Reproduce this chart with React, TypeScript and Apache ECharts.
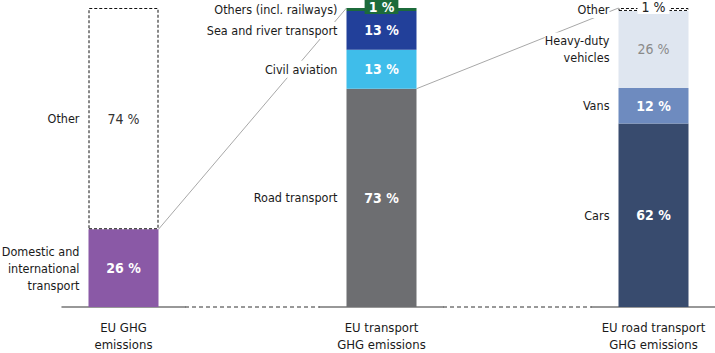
import React, { useEffect, useRef } from "react";
import * as echarts from "echarts";

// ---- data ----
const barCategories = ["EU GHG\nemissions", "EU transport\nGHG emissions", "EU road transport\nGHG emissions"];

const ghgNames = ["Domestic and\ninternational\ntransport", "Other"];
const ghgValues = [26, 74];

const transportNames = ["Road transport", "Civil aviation", "Sea and river transport", "Others (incl. railways)"];
const transportValues = [73, 13, 13, 1];

const roadNames = ["Cars", "Vans", "Heavy-duty\nvehicles", "Other"];
const roadValues = [62, 12, 26, 1];

// ---- styles (kept apart from data) ----
const FONT = '"Liberation Sans Narrow", "DejaVu Sans Condensed", "Noto Sans", sans-serif';
const FS = 12.5;
type SegStyle = {
  color: string;
  dashed?: boolean;
  labelColor: string;
  bold?: boolean;
  topLabel?: boolean;
  labelBg?: string;
};
const ghgStyles: SegStyle[] = [
  { color: "#8a59a6", labelColor: "#ffffff", bold: true },
  { color: "#ffffff", dashed: true, labelColor: "#333333" },
];
const transportStyles: SegStyle[] = [
  { color: "#6d6e71", labelColor: "#ffffff", bold: true },
  { color: "#3fbdea", labelColor: "#ffffff", bold: true },
  { color: "#22409a", labelColor: "#ffffff", bold: true },
  { color: "#1c6b3b", labelColor: "#ffffff", bold: true, topLabel: true, labelBg: "#1c6b3b" },
];
const roadStyles: SegStyle[] = [
  { color: "#384b6e", labelColor: "#ffffff", bold: true },
  { color: "#6e8bbf", labelColor: "#ffffff", bold: true },
  { color: "#dfe6f0", labelColor: "#8a8a8a" },
  { color: "#ffffff", dashed: true, labelColor: "#222222", topLabel: true, labelBg: "#ffffff" },
];

const GRID_W = 123;
const BAR_W = 70;
const gridLefts = [62, 320, 592];
const GRID_TOP = 8;
const GRID_BOTTOM = 42;

export default function App() {
  const ref = useRef<HTMLDivElement>(null);
  useEffect(() => {
    if (!ref.current) return;
    const chart = echarts.init(ref.current, undefined, { renderer: "svg" });

    const groups = [
      { names: ghgNames, values: ghgValues, styles: ghgStyles, max: 100 },
      { names: transportNames, values: transportValues, styles: transportStyles, max: 100 },
      { names: roadNames, values: roadValues, styles: roadStyles, max: roadValues.reduce((a, b) => a + b, 0) },
    ];

    const series: any[] = [];
    groups.forEach((g, gi) => {
      g.values.forEach((v, i) => {
        const st = g.styles[i];
        series.push({
          type: "bar",
          xAxisIndex: gi,
          yAxisIndex: gi,
          stack: "v" + gi,
          barWidth: BAR_W,
          silent: true,
          z: 3,
          data: [v],
          itemStyle: {
            color: st.color,
            borderColor: st.dashed ? "#111111" : undefined,
            borderWidth: st.dashed ? 1 : 0,
            borderType: st.dashed ? [3, 2] : "solid",
          },
          label: {
            show: true,
            position: st.topLabel ? "top" : "inside",
            distance: st.topLabel ? -6 : 5,
            formatter: v + " %",
            color: st.labelColor,
            fontFamily: FONT,
            fontSize: 14,
            fontWeight: st.bold ? 600 : "normal",
            backgroundColor: st.labelBg,
            padding: st.labelBg ? [1, 4, 0, 4] : 0,
          },
        });
      });
      g.values.forEach((v, i) => {
        series.push({
          type: "bar",
          xAxisIndex: gi,
          yAxisIndex: gi,
          stack: "n" + gi,
          barWidth: BAR_W,
          barGap: "-100%",
          silent: true,
          z: 4,
          data: [v],
          itemStyle: { color: "rgba(0,0,0,0)" },
          label: {
            show: true,
            position: "left",
            distance: 9,
            formatter: g.names[i],
            color: "#1a1a1a",
            fontFamily: FONT,
            fontSize: FS,
            lineHeight: 17,
            align: "right",
            backgroundColor: "#ffffff",
            padding: 0,
          },
        });
      });
    });

    const option: any = {
      animation: false,
      grid: gridLefts.map((l) => ({ left: l, width: GRID_W, top: GRID_TOP, bottom: GRID_BOTTOM })),
      xAxis: barCategories.map((c, gi) => ({
        type: "category",
        gridIndex: gi,
        data: [c],
        axisLine: { lineStyle: { color: "#777777", width: 1.5 } },
        axisTick: { show: false },
        axisLabel: { color: "#1a1a1a", fontFamily: FONT, fontSize: 13, lineHeight: 17, margin: 12 },
      })),
      yAxis: groups.map((g, gi) => ({
        type: "value",
        gridIndex: gi,
        min: 0,
        max: g.max,
        show: false,
        splitLine: { show: false },
      })),
      series,
    };
    chart.setOption(option);

    // connector lines derived from the axes' scales
    const px = (gi: number, v: number) => chart.convertToPixel({ gridIndex: gi } as any, [0, v]) as number[];
    const a0 = px(0, ghgValues[0]);
    const b0 = px(1, transportValues.reduce((a, b) => a + b, 0));
    const a1 = px(1, transportValues[0]);
    const b1 = px(2, groups[2].max);
    const base = px(0, 0)[1];
    const half = BAR_W / 2;
    const gLine = { stroke: "#a8a8a8", lineWidth: 1 };
    const dLine = { stroke: "#333333", lineWidth: 1, lineDash: [4, 3] };
    chart.setOption({
      graphic: [
        { type: "line", z: 1, shape: { x1: a0[0] + half, y1: a0[1], x2: b0[0] - half, y2: b0[1] }, style: gLine },
        { type: "line", z: 1, shape: { x1: a1[0] + half, y1: a1[1], x2: b1[0] - half, y2: b1[1] }, style: gLine },
        { type: "line", z: 1, shape: { x1: gridLefts[0] + GRID_W, y1: base, x2: gridLefts[1], y2: base }, style: dLine },
        { type: "line", z: 1, shape: { x1: gridLefts[1] + GRID_W, y1: base, x2: gridLefts[2], y2: base }, style: dLine },
      ],
    });

    return () => chart.dispose();
  }, []);
  return <div ref={ref} style={{ position: "fixed", left: 0, top: 0, width: 715, height: 353, background: "#fff" }} />;
}
